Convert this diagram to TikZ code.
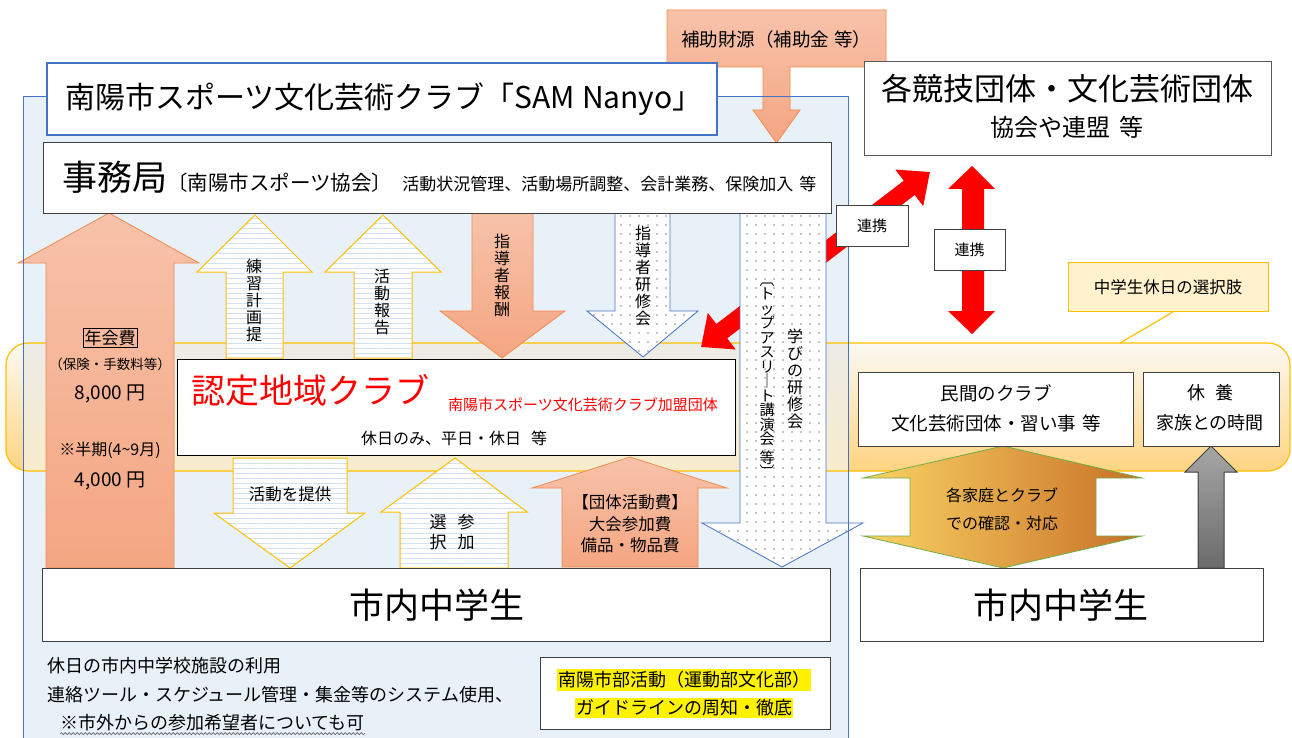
\documentclass[tikz,border=0pt]{standalone}
\usepackage{fontspec}
\setmainfont{Noto Sans CJK JP}
\usetikzlibrary{patterns,patterns.meta,decorations.pathmorphing}
\definecolor{cblue}{RGB}{68,114,196}
\definecolor{cbluefill}{RGB}{232,240,248}
\definecolor{cgold}{RGB}{255,192,0}
\definecolor{corange}{RGB}{240,140,80}
\definecolor{csalT}{RGB}{247,194,170}
\definecolor{csalB}{RGB}{244,166,130}
\definecolor{cstripe}{RGB}{208,222,242}
\definecolor{cdark}{RGB}{64,64,64}
\definecolor{cyelbox}{RGB}{255,242,204}
\definecolor{bandT}{RGB}{252,249,242}
\definecolor{bandM}{RGB}{255,236,200}
\definecolor{bandB}{RGB}{255,212,130}
\definecolor{bandiT}{RGB}{236,235,229}
\definecolor{bandiB}{RGB}{248,236,205}
\definecolor{dblL}{RGB}{250,212,100}
\definecolor{dblR}{RGB}{200,112,40}
\definecolor{cgreen}{RGB}{112,173,71}
\newcommand\fsz[2]{\fontsize{#1}{#2}\selectfont}
\tikzset{
  wbox/.style={draw=cdark, line width=1.2pt, fill=white, anchor=north west, inner sep=0pt},
  salarrow/.style={draw=corange, line width=0.8pt, top color=csalT, bottom color=csalB},
  stripearrow/.style={draw=cgold, line width=1pt, preaction={fill=white}, pattern={Lines[angle=0,distance=5pt,line width=0.7pt]}, pattern color=cstripe},
  dotarrow/.style={draw=cblue, line width=0.8pt, preaction={fill=white}, pattern={Dots[distance=9pt,radius=0.6pt]}, pattern color=black},
  txt/.style={inner sep=0pt, text=black},
  vtxt/.style={inner sep=0pt, text=black, align=center, font=\fsz{16}{17}},
}
\begin{document}
\begin{tikzpicture}[x=1pt,y=-1pt]
\useasboundingbox (0,0) rectangle (1292,738);
% container
\fill[cbluefill] (23,97) rectangle (848,745);
% band
\path[top color=bandT, middle color=bandM, bottom color=bandB, rounded corners=22pt] (6,343) rectangle (1290,471);
\begin{scope}
\clip (23,97) rectangle (848,745);
\path[top color=bandiT, bottom color=bandiB, rounded corners=22pt] (6,343) rectangle (1290,471);
\end{scope}
\draw[cgold, line width=1.2pt, rounded corners=22pt] (6,343) rectangle (1290,471);
\coordinate (bandpt) at (1120,343);

% red diagonal double arrow
\begin{scope}[shift={(815.5,259.5)}, rotate=37.4]
\fill[red] (-144,0) -- (-118,-23) -- (-118,-9) -- (118,-9) -- (118,-23) -- (144,0) -- (118,23) -- (118,9) -- (-118,9) -- (-118,23) -- cycle;
\end{scope}
% red vertical double arrow
\fill[red] (972,166) -- (995,189) -- (984,189) -- (984,311) -- (995,311) -- (972,334) -- (948,311) -- (962,311) -- (962,189) -- (948,189) -- cycle;

% block arrows
\draw[salarrow] (109,213) -- (199,263) -- (174,263) -- (174,568) -- (46,568) -- (46,263) -- (18,263) -- cycle;
\draw[stripearrow] (255,215) -- (312,272) -- (283,272) -- (283,358) -- (226,358) -- (226,272) -- (197,272) -- cycle;
\draw[stripearrow] (383,215) -- (441,272) -- (412,272) -- (412,358) -- (354,358) -- (354,272) -- (325,272) -- cycle;
\draw[salarrow] (472,213) -- (533,213) -- (533,311) -- (565,311) -- (502,358) -- (440,311) -- (472,311) -- cycle;
\draw[dotarrow] (615,213) -- (670,213) -- (670,311) -- (698,311) -- (643,357) -- (587,311) -- (615,311) -- cycle;
\draw[dotarrow] (740,213) -- (826,213) -- (826,523) -- (863,523) -- (782,567) -- (702,523) -- (740,523) -- cycle;
\draw[stripearrow] (233,458) -- (347,458) -- (347,513) -- (365,513) -- (290,568) -- (214,513) -- (233,513) -- cycle;
\draw[stripearrow] (455,458) -- (527,512) -- (508,512) -- (508,568) -- (400,568) -- (400,512) -- (381,512) -- cycle;
\draw[salarrow] (630,457) -- (727,488) -- (698,488) -- (698,567) -- (562,567) -- (562,488) -- (532,488) -- cycle;
% hojo callout arrow
\draw[salarrow] (667,10) -- (886,10) -- (886,67) -- (790,67) -- (790,110) -- (800,110) -- (776.5,143) -- (753,110) -- (763,110) -- (763,67) -- (667,67) -- cycle;
% double arrow (family)
\draw[cgreen, line width=0.8pt, left color=dblL, right color=dblR] (1003,446) -- (1142,478) -- (1096,478) -- (1096,536) -- (1142,536) -- (1003,568) -- (863,536) -- (910,536) -- (910,478) -- (863,478) -- cycle;
% gray arrow
\draw[black!75, line width=1pt, top color=black!35, bottom color=black!58] (1211,446) -- (1237,472) -- (1224,472) -- (1224,568) -- (1198,568) -- (1198,472) -- (1185,472) -- cycle;

% container border
\draw[cblue, line width=1pt] (23,745) -- (23,97) -- (848,97) -- (848,745);

% boxes
\node[wbox, draw=cblue, line width=1.6pt, minimum width=670pt, minimum height=72pt] (title) at (46,62) {};
\node[txt, font=\fsz{30}{33}] (titletxt) at (384,99) {南陽市スポーツ文化芸術クラブ「SAM Nanyo」};
\node[wbox, minimum width=788pt, minimum height=71pt] (jimu) at (43,142) {};
\node[txt, anchor=base west] (jimutxt) at (62,190) {\fsz{35}{38}事務局\fsz{20.5}{23}〔南陽市スポーツ協会〕\hspace{10pt}\fsz{17}{20}活動状況管理、活動場所調整、会計業務、保険加入\hspace{6pt}等};
\node[txt, font=\fsz{18.5}{21}] (hojotxt) at (776,39) {補助財源（補助金\hspace{5pt}等）};
\node[wbox, draw=black!65, minimum width=407pt, minimum height=94pt] (kyogi) at (864,61) {};
\node[txt, font=\fsz{31}{34}] (kyogi1) at (1067,89) {各競技団体・文化芸術団体};
\node[txt, font=\fsz{24}{27}] (kyogi2) at (1067,127) {協会や連盟\hspace{9pt}等};

\node[wbox, draw=black, minimum width=558pt, minimum height=96pt] (club) at (177,359) {};
\node[txt, text=red, anchor=base west, font=\fsz{34}{37}] (clubname) at (191,403) {認定地域クラブ};
\node[txt, text=red, anchor=base west, font=\fsz{15}{18}] (clubsub) at (448,410) {南陽市スポーツ文化芸術クラブ加盟団体};
\node[txt, font=\fsz{16}{19}] (clubdays) at (454,438) {休日のみ、平日・休日\hspace{10pt}等};

\node[wbox, draw=black!75, minimum width=275pt, minimum height=74pt] (minkan) at (858,372) {};
\node[txt, font=\fsz{18.5}{30}, align=center] (minkantxt) at (996,408) {民間のクラブ\\文化芸術団体・習い事\hspace{6pt}等};
\node[wbox, draw=black!75, minimum width=136pt, minimum height=74pt] (kyuyo) at (1143,372) {};
\node[txt, font=\fsz{18}{30}, align=center] (kyuyotxt) at (1210,408) {休\hspace{10pt}養\\家族との時間};
\node[wbox, draw=cgold, fill=cyelbox, line width=1.2pt, minimum width=200pt, minimum height=49pt] (sel) at (1068,262) {};
\node[txt, font=\fsz{16.5}{19}] (seltxt) at (1168,287) {中学生休日の選択肢};
\draw[cgold, line width=1.2pt] ([xshift=4pt]sel.south) -- (bandpt);

\node[wbox, minimum width=788pt, minimum height=73pt] (stuL) at (42,568) {};
\node[txt, font=\fsz{35}{38}] (stuLtxt) at (437,605) {市内中学生};
\node[wbox, minimum width=403pt, minimum height=73pt] (stuR) at (860,568) {};
\node[txt, font=\fsz{35}{38}] (stuRtxt) at (1061,605) {市内中学生};

\node[wbox, minimum width=72pt, minimum height=41pt] (renkei1) at (836,205) {};
\node[txt, font=\fsz{15}{18}] (renkei1txt) at (872,226) {連携};
\node[wbox, minimum width=71pt, minimum height=41pt] (renkei2) at (934,229) {};
\node[txt, font=\fsz{15}{18}] (renkei2txt) at (969.5,250) {連携};

\node[wbox, minimum width=290pt, minimum height=72pt] (guide) at (540,657) {};
\node[txt, fill=yellow, inner xsep=1pt, inner ysep=2pt, font=\fsz{18}{21}] (guide1) at (684,680) {南陽市部活動（運動部文化部）};
\node[txt, fill=yellow, inner xsep=1pt, inner ysep=2pt, font=\fsz{18}{21}] (guide2) at (684,708) {ガイドラインの周知・徹底};

% arrow texts
\node[txt, draw=black, line width=0.8pt, inner sep=1.5pt, font=\fsz{17}{20}] (nenkai) at (110,338) {年会費};
\node[txt, font=\fsz{13.5}{16}] (hoken) at (110,364) {（保険・手数料等）};
\node[txt, font=\fsz{19}{22}] (y8000) at (110,394) {8,000 円};
\node[txt, font=\fsz{16}{19}] (hanki) at (110,450) {※半期(4\string~9月)};
\node[txt, font=\fsz{19}{22}] (y4000) at (110,481) {4,000 円};

\node[vtxt] (renshu) at (254,300) {練\\習\\計\\画\\提};
\node[vtxt] (katsudo) at (382,302) {活\\動\\報\\告};
\node[vtxt] (shido) at (502,275) {指\\導\\者\\報\\酬};
\node[vtxt] (kenshu) at (643,276) {指\\導\\者\\研\\修\\会};
\node[vtxt] (manabi) at (795,379) {学\\び\\の\\研\\修\\会};
\node[vtxt, font=\fsz{15}{14.5}] (top) at (767,380) {︹\\ト\\ッ\\プ\\ア\\ス\\リ\\｜\\ト\\講\\演\\会\\[4pt]等\\︺};

\node[txt, font=\fsz{16.5}{19}] (teikyo) at (290,494) {活動を提供};
\node[txt, font=\fsz{17}{20}, align=center] (sanka) at (452,532) {選\hspace{11pt}参\\択\hspace{11pt}加};
\node[txt, font=\fsz{16.5}{21.5}, align=center] (dantai) at (630,524) {【団体活動費】\\大会参加費\\備品・物品費};
\node[txt, font=\fsz{16}{28}, align=center] (katei) at (1002,509) {各家庭とクラブ\\での確認・対応};

% bottom notes
\node[txt, anchor=west, font=\fsz{18}{21}] (note1) at (47,666) {休日の市内中学校施設の利用};
\node[txt, anchor=west, font=\fsz{18}{21}] (note2) at (47,695) {連絡ツール・スケジュール管理・集金等のシステム使用、};
\node[txt, anchor=west, font=\fsz{18}{21}] (note3) at (60,723) {※市外からの参加希望者についても可};
\draw[black!60, line width=0.6pt, decorate, decoration={snake, amplitude=1pt, segment length=4pt}] ([yshift=-2pt]note3.south west) -- ([yshift=-2pt]note3.south east);
\end{tikzpicture}
\end{document}
